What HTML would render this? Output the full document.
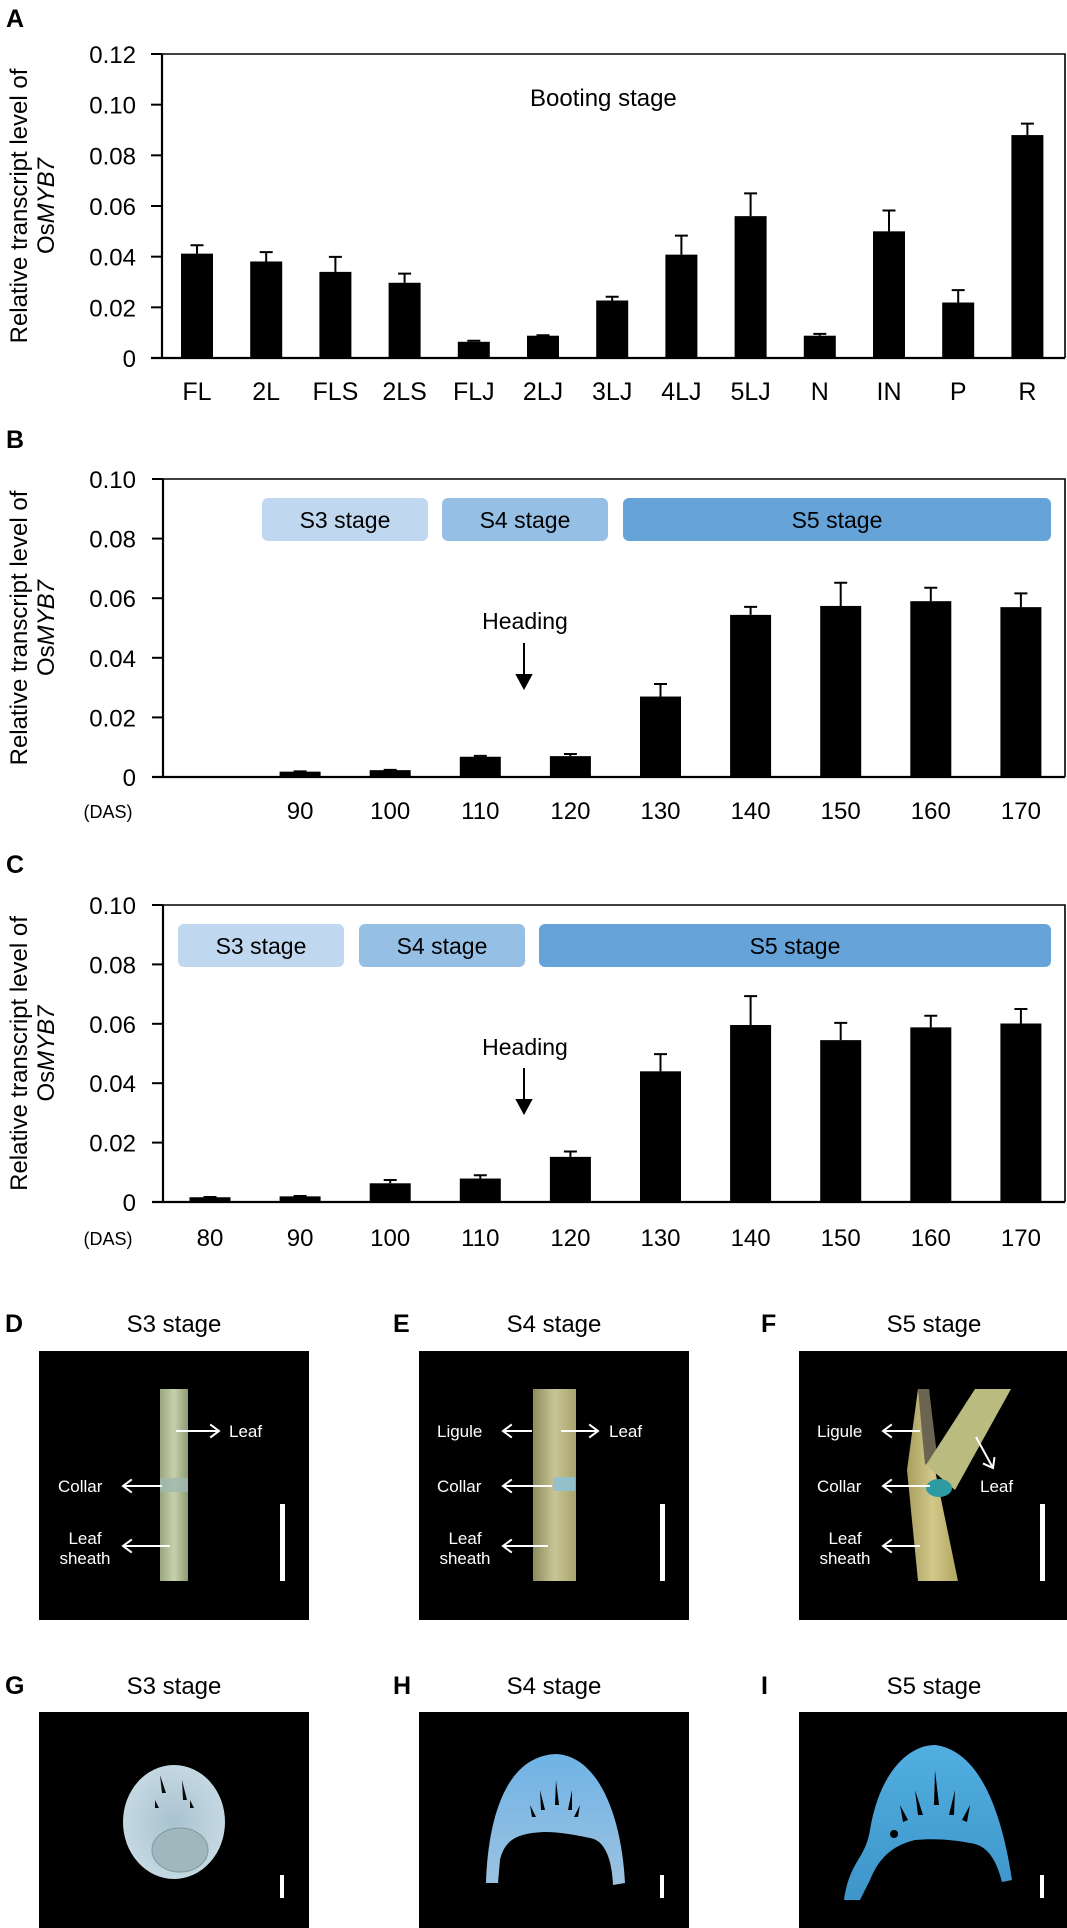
<!DOCTYPE html>
<html><head><meta charset="utf-8"><style>
html,body{margin:0;padding:0;background:#fff}
svg{display:block}
text{font-family:"Liberation Sans",Arial,sans-serif}
</style></head><body>
<svg id="fig" width="1067" height="1928" viewBox="0 0 1067 1928" xmlns="http://www.w3.org/2000/svg">
<defs>
<linearGradient id="stemD" x1="0" x2="1"><stop offset="0" stop-color="#9aa77e"/><stop offset="0.5" stop-color="#c7d0ad"/><stop offset="1" stop-color="#8e9b72"/></linearGradient>
<linearGradient id="stemE" x1="0" x2="1"><stop offset="0" stop-color="#8d8a5c"/><stop offset="0.5" stop-color="#c9c596"/><stop offset="1" stop-color="#a9a46c"/></linearGradient>
<linearGradient id="stemF" x1="0" x2="1"><stop offset="0" stop-color="#a79e5e"/><stop offset="0.5" stop-color="#d3c88a"/><stop offset="1" stop-color="#b0a65f"/></linearGradient>
<radialGradient id="secG"><stop offset="0" stop-color="#a9c3cf"/><stop offset="1" stop-color="#c4d8e2"/></radialGradient>
<linearGradient id="secH" x1="0" y1="0" x2="0" y2="1"><stop offset="0" stop-color="#6fb3e6"/><stop offset="1" stop-color="#9cc2e0"/></linearGradient>
<linearGradient id="secI" x1="0" y1="0" x2="0" y2="1"><stop offset="0" stop-color="#52aee0"/><stop offset="1" stop-color="#3d95c9"/></linearGradient>
</defs>
<g id="chartA"></g>
<g id="chartB"></g>
<g id="chartC"></g>

<!-- Panel letters A-C -->
<text x="6" y="27" font-size="25" font-weight="bold">A</text>
<text x="6" y="448" font-size="25" font-weight="bold">B</text>
<text x="6" y="873" font-size="25" font-weight="bold">C</text>
<text x="530" y="106" font-size="24">Booting stage</text>

<!-- Photo panels D-F -->
<g>
<text x="5" y="1332" font-size="25" font-weight="bold">D</text>
<text x="174" y="1332" font-size="24" text-anchor="middle">S3 stage</text>
<rect x="39" y="1351" width="270" height="269" fill="#000"/>
<rect x="160" y="1389" width="28" height="192" fill="url(#stemD)"/>
<rect x="160" y="1478" width="28" height="14" fill="#9fb8b0" opacity="0.8"/>
</g>
<g>
<text x="393" y="1332" font-size="25" font-weight="bold">E</text>
<text x="554" y="1332" font-size="24" text-anchor="middle">S4 stage</text>
<rect x="419" y="1351" width="270" height="269" fill="#000"/>
<rect x="533" y="1389" width="43" height="192" fill="url(#stemE)"/>
<rect x="553" y="1477" width="22" height="14" fill="#8fc1cf" opacity="0.9"/>
</g>
<g>
<text x="761" y="1332" font-size="25" font-weight="bold">F</text>
<text x="934" y="1332" font-size="24" text-anchor="middle">S5 stage</text>
<rect x="799" y="1351" width="268" height="269" fill="#000"/>
<polygon points="918,1581 907,1470 918,1389 929,1389 935,1470 958,1581" fill="url(#stemF)"/>
<polygon points="918,1389 929,1389 937,1455 925,1465" fill="#6a6450"/>
<polygon points="926,1465 975,1389 1011,1389 955,1490" fill="#b9bb7f"/>
<ellipse cx="939" cy="1488" rx="13" ry="9" fill="#2e9aa2"/>
</g>
<!-- labels and arrows on D-F -->
<g id="photoLabels" fill="#fff" font-size="17"></g>

<!-- Panels G-I -->
<text x="5" y="1694" font-size="25" font-weight="bold">G</text>
<text x="174" y="1694" font-size="24" text-anchor="middle">S3 stage</text>
<rect x="39" y="1712" width="270" height="216" fill="#000"/>
<ellipse cx="174" cy="1822" rx="51" ry="57" fill="url(#secG)"/>
<ellipse cx="180" cy="1850" rx="28" ry="22" fill="#9fb7bd" stroke="#7f9aa0"/>
<path d="M160 1775 l6 18 l-4 0z M182 1780 l5 20 l-4 0z M155 1800 l4 8 l-4 0z M190 1800 l4 8 l-4 0z" fill="#0a0a0a"/>
<text x="393" y="1694" font-size="25" font-weight="bold">H</text>
<text x="554" y="1694" font-size="24" text-anchor="middle">S4 stage</text>
<rect x="419" y="1712" width="270" height="216" fill="#000"/>
<path d="M486 1883 C488 1820 505 1756 556 1754 C600 1756 622 1820 625 1883 L613 1885 C612 1860 605 1840 590 1838 C575 1835 560 1832 545 1832 C520 1833 505 1838 500 1860 L498 1883 Z" fill="url(#secH)"/>
<path d="M540 1790 l5 20 l-4 0z M556 1780 l3 25 l-4 0z M572 1790 l-4 20 l4 0z M530 1805 l6 12 l-4 0z M580 1805 l-6 12 l4 0z" fill="#000"/>
<text x="761" y="1694" font-size="25" font-weight="bold">I</text>
<text x="934" y="1694" font-size="24" text-anchor="middle">S5 stage</text>
<rect x="799" y="1712" width="268" height="216" fill="#000"/>
<path d="M844 1900 C850 1860 865 1860 870 1830 C880 1770 910 1745 935 1745 C975 1750 1000 1800 1012 1880 L1002 1882 C995 1855 985 1845 970 1843 C955 1840 935 1838 915 1840 C895 1845 880 1855 870 1880 L860 1900 Z" fill="url(#secI)"/>
<path d="M915 1790 l8 25 l-5 0z M935 1770 l4 35 l-5 0z M955 1790 l-6 25 l5 0z M900 1805 l8 15 l-5 2z M970 1805 l-8 15 l5 2z M894 1830 a4 4 0 1 0 0.1 0z" fill="#000"/>
<!-- scale bars -->
<rect x="280" y="1504" width="5" height="77" fill="#fff"/>
<rect x="660" y="1504" width="5" height="77" fill="#fff"/>
<rect x="1040" y="1504" width="5" height="77" fill="#fff"/>
<rect x="280" y="1875" width="4" height="23" fill="#fff"/>
<rect x="660" y="1875" width="4" height="23" fill="#fff"/>
<rect x="1040" y="1875" width="4" height="23" fill="#fff"/>
</svg>
<script>
// ---- Panel A data ----
const catsA = ["FL","2L","FLS","2LS","FLJ","2LJ","3LJ","4LJ","5LJ","N","IN","P","R"];
const valsA = [0.0412,0.0381,0.0340,0.0297,0.0064,0.0088,0.0227,0.0408,0.0560,0.0088,0.0500,0.0219,0.0880];
const errA  = [0.0033,0.0037,0.0059,0.0036,0.0004,0.0002,0.0015,0.0075,0.0090,0.0007,0.0082,0.0049,0.0045];
const ticksA = ["0","0.02","0.04","0.06","0.08","0.10","0.12"];
// ---- Panel B data ----
const catsB = ["","90","100","110","120","130","140","150","160","170"];
const valsB = [0,0.0018,0.0023,0.0068,0.0070,0.0270,0.0544,0.0574,0.0590,0.0570];
const errB  = [0,0.0001,0.0001,0.0003,0.0007,0.0042,0.0027,0.0078,0.0045,0.0046];
// ---- Panel C data ----
const catsC = ["80","90","100","110","120","130","140","150","160","170"];
const valsC = [0.0016,0.0019,0.0063,0.0079,0.0152,0.0440,0.0596,0.0545,0.0588,0.0601];
const errC  = [0.0001,0.0001,0.0011,0.0011,0.0018,0.0058,0.0097,0.0058,0.0039,0.0049];
const ticksBC = ["0","0.02","0.04","0.06","0.08","0.10"];
const stagesB = ["S3 stage","S4 stage","S5 stage"];

const NS="http://www.w3.org/2000/svg";
function mk(parent,tag,attrs,txt){const e=document.createElementNS(NS,tag);for(const k in attrs)e.setAttribute(k,attrs[k]);if(txt!==undefined)e.textContent=txt;parent.appendChild(e);return e;}

function drawChart(g,cfg){
  const {x0,x1,yTop,y0,yMax,cats,vals,errs,ticks,first,step,bw,labelY,catFont,das}=cfg;
  const yS=v=>y0-(v/yMax)*(y0-yTop);
  const xS=i=>first+i*step;
  // frame
  const fr=mk(g,'polyline',{points:`${x0},${yTop} ${x1},${yTop} ${x1},${y0}`,fill:'none',stroke:'#000','stroke-width':1.6});
  
  
  const ya=mk(g,'line',{x1:x0,y1:yTop,x2:x0,y2:y0,stroke:'#000','stroke-width':2.2});
  
  
  const xa=mk(g,'line',{x1:x0-11,y1:y0,x2:x1,y2:y0,stroke:'#000','stroke-width':2.2});
  
  
  ticks.forEach((t,i)=>{
    const v=i*0.02, y=yS(v);
    const tl=mk(g,'line',{x1:x0-11,y1:y,x2:x0,y2:y,stroke:'#000','stroke-width':2});
    
    
    const tx=mk(g,'text',{x:136,y:y+9,'font-size':24,'text-anchor':'end'},t);
    
    
  });
  cats.forEach((c,i)=>{
    const cx=xS(i);
    if(vals[i]>0){
      const top=yS(vals[i]);
      const b=mk(g,'rect',{x:cx-bw/2,y:top,width:bw,height:y0-top,fill:'#000'});
      
      
      const et=yS(vals[i]+errs[i]);
      const el=mk(g,'path',{d:`M${cx} ${top} V${et} M${cx-6.5} ${et} H${cx+6.5}`,stroke:'#000','stroke-width':2,fill:'none'});
      
      
    }
    if(c){
      const t=mk(g,'text',{x:cx,y:labelY,'font-size':catFont,'text-anchor':'middle'},c);
      
      
    }
  });
  if(das){
    const d=mk(g,'text',{x:108,y:labelY-1,'font-size':18,'text-anchor':'middle'},'(DAS)');
    
    
  }
  const cy=(yTop+y0)/2;
  const t1=mk(g,'text',{x:0,y:0,'font-size':24,'text-anchor':'middle',transform:`translate(27,${cy}) rotate(-90)`},'Relative transcript level of');
  
  
  const t2=mk(g,'text',{x:0,y:0,'font-size':24,'text-anchor':'middle',transform:`translate(54,${cy}) rotate(-90)`});
  
  
  mk(t2,'tspan',{},'Os');
  mk(t2,'tspan',{'font-style':'italic'},'MYB7');
  return {yS,xS};
}
function drawStages(g,boxes,y){
  const cols=['#c0d8ef','#95bfe4','#66a3d8'];
  boxes.forEach((b,i)=>{
    const r=mk(g,'rect',{x:b[0],y:y,width:b[1]-b[0],height:43,rx:6,fill:cols[i]});
    
    
    const t=mk(g,'text',{x:(b[0]+b[1])/2,y:y+30,'font-size':23,'text-anchor':'middle'},stagesB[i]);
    
    
  });
}
function drawHeading(g,ty,a0,a1){
  const t=mk(g,'text',{x:525,y:ty,'font-size':23,'text-anchor':'middle'},'Heading');
  
  
  const a=mk(g,'path',{d:`M524 ${a0} V${a1-12} M517 ${a1-13} L531 ${a1-13} L524 ${a1} Z`,stroke:'#000','stroke-width':2,fill:'#000'});
  
  
}
const gA=document.getElementById('chartA');
drawChart(gA,{x0:162,x1:1065,yTop:54,y0:358,yMax:0.12,cats:catsA,vals:valsA,errs:errA,ticks:ticksA,first:197,step:69.2,bw:32,labelY:400,catFont:25,das:false});
const gB=document.getElementById('chartB');
drawStages(gB,[[262,428],[442,608],[623,1051]],498);
drawHeading(gB,629,643,688);
drawChart(gB,{x0:163,x1:1065,yTop:479,y0:777,yMax:0.10,cats:catsB,vals:valsB,errs:errB,ticks:ticksBC,first:210,step:90.1,bw:41,labelY:819,catFont:24,das:true});
const gC=document.getElementById('chartC');
drawStages(gC,[[178,344],[359,525],[539,1051]],924);
drawHeading(gC,1055,1068,1113);
drawChart(gC,{x0:163,x1:1065,yTop:905,y0:1202,yMax:0.10,cats:catsC,vals:valsC,errs:errC,ticks:ticksBC,first:210,step:90.1,bw:41,labelY:1246,catFont:24,das:true});

// photo annotations
const pl=document.getElementById('photoLabels');
function lab(x,y,s,anchor){const t=mk(pl,'text',{x:x,y:y,'text-anchor':anchor||'start'},s);}
function arrow(x1,y1,x2,y2){
  const ang=Math.atan2(y2-y1,x2-x1),h=11;
  const a1=ang+2.5,a2=ang-2.5;
  const p=mk(pl,'path',{d:`M${x1} ${y1} L${x2} ${y2} M${x2+h*Math.cos(a1)} ${y2+h*Math.sin(a1)} L${x2} ${y2} L${x2+h*Math.cos(a2)} ${y2+h*Math.sin(a2)}`,stroke:'#fff','stroke-width':2,fill:'none'});
  
  
}
// D
lab(229,1437,'Leaf');arrow(176,1431,219,1431);
lab(58,1492,'Collar');arrow(162,1486,123,1486);
lab(85,1544,'Leaf','middle');lab(85,1564,'sheath','middle');arrow(170,1546,123,1546);
// E
lab(437,1437,'Ligule');arrow(532,1431,503,1431);
lab(609,1437,'Leaf');arrow(561,1431,598,1431);
lab(437,1492,'Collar');arrow(552,1486,503,1486);
lab(465,1544,'Leaf','middle');lab(465,1564,'sheath','middle');arrow(548,1546,503,1546);
// F
lab(817,1437,'Ligule');arrow(920,1431,883,1431);
lab(980,1492,'Collar'.replace('Collar','Leaf'));
lab(817,1492,'Collar');arrow(930,1486,883,1486);
lab(845,1544,'Leaf','middle');lab(845,1564,'sheath','middle');arrow(920,1546,883,1546);
arrow(976,1437,993,1468);
</script>
</body></html>
